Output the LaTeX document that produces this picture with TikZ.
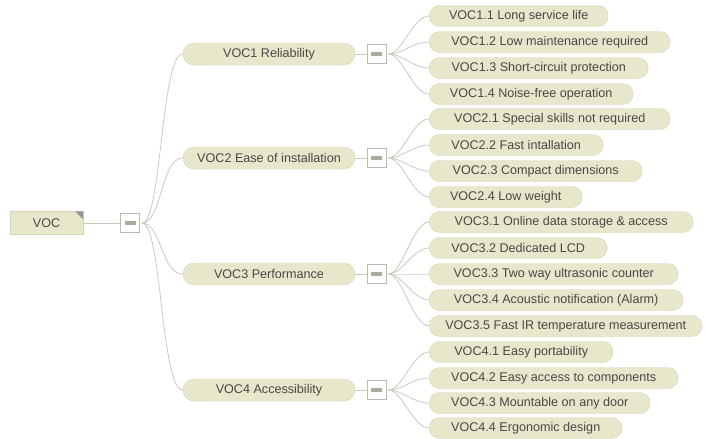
\documentclass[tikz,border=0pt]{standalone}
\usepackage{fontspec}
\setmainfont{Liberation Sans}
\definecolor{pillfill}{RGB}{232,231,203}
\definecolor{pillborder}{RGB}{214,212,178}
\definecolor{txt}{RGB}{72,72,72}
\definecolor{linkc}{RGB}{204,200,188}
\definecolor{boxline}{RGB}{190,186,172}
\definecolor{barc}{RGB}{172,169,152}
\definecolor{tric}{RGB}{150,150,150}
\tikzset{
  leaf/.style={draw=pillborder, fill=pillfill, rounded corners=10.5pt,
    minimum height=21pt, inner sep=0pt, anchor=west, text=txt,
    font=\fontsize{12.6}{14}\selectfont},
  topic/.style={leaf, anchor=center, minimum width=172pt, minimum height=22pt,
    rounded corners=11pt},
  rootbox/.style={draw=pillborder, fill=pillfill, inner sep=0pt, text=txt,
    minimum width=73pt, minimum height=23pt, font=\fontsize{12.6}{14}\selectfont},
  ctl/.style={draw=boxline, fill=white, minimum size=19pt, inner sep=0pt,
    line width=0.8pt,
    path picture={\fill[barc] ([xshift=-5.5pt,yshift=-1.8pt]path picture bounding box.center)
      rectangle ++(11pt,3.6pt);}},
  link/.style={draw=linkc, line width=0.8pt},
}
\begin{document}
\begin{tikzpicture}[x=1pt, y=-1pt]
\useasboundingbox (0,0) rectangle (705,439);

% root
\node[rootbox] (root) at (46.5,223) {VOC};
\fill[tric] (root.north east) -- ++(-8,0) -- ++(8,8) -- cycle;
\node[ctl] (rb) at (130,223) {};
\draw[link] (root.east) -- (rb.west);

% main branches
\node[topic] (t1) at (269,54) {VOC1 Reliability};
\node[topic] (t2) at (269,158) {VOC2 Ease of installation};
\node[topic] (t3) at (269,274) {VOC3 Performance};
\node[topic] (t4) at (269,390) {VOC4 Accessibility};
\foreach \i in {1,2,3,4} {
  \node[ctl] (b\i) at (376.5,{\ifcase\i\or54\or158\or274\or390\fi}) {};
  \draw[link] (t\i.east) -- (b\i.west);
  \draw[link] ([xshift=2pt]rb.east) .. controls +(20,0) and +(-22,0) .. (t\i.west);
}

% leaves
\node[leaf, minimum width=179pt] (l11) at (429,16)  {VOC1.1 Long service life};
\node[leaf, minimum width=241pt] (l12) at (429,42)  {VOC1.2 Low maintenance required};
\node[leaf, minimum width=219pt] (l13) at (429,68)  {VOC1.3 Short-circuit protection};
\node[leaf, minimum width=204pt] (l14) at (429,94)  {VOC1.4 Noise-free operation};
\node[leaf, minimum width=241pt] (l21) at (429,119) {VOC2.1 Special skills not required};
\node[leaf, minimum width=174pt] (l22) at (429,145) {VOC2.2 Fast intallation};
\node[leaf, minimum width=213pt] (l23) at (429,171) {VOC2.3 Compact dimensions};
\node[leaf, minimum width=153pt] (l24) at (429,197) {VOC2.4 Low weight};
\node[leaf, minimum width=264pt] (l31) at (429,222) {VOC3.1 Online data storage \& access};
\node[leaf, minimum width=178pt] (l32) at (429,248) {VOC3.2 Dedicated LCD};
\node[leaf, minimum width=249pt] (l33) at (429,274) {VOC3.3 Two way ultrasonic counter};
\node[leaf, minimum width=254pt] (l34) at (429,300) {VOC3.4 Acoustic notification (Alarm)};
\node[leaf, minimum width=273pt] (l35) at (429,326) {VOC3.5 Fast IR temperature measurement};
\node[leaf, minimum width=184pt] (l41) at (429,352) {VOC4.1 Easy portability};
\node[leaf, minimum width=249pt] (l42) at (429,378) {VOC4.2 Easy access to components};
\node[leaf, minimum width=221pt] (l43) at (429,403) {VOC4.3 Mountable on any door};
\node[leaf, minimum width=193pt] (l44) at (429,428) {VOC4.4 Ergonomic design};

% leaf connectors
\foreach \b/\list in {1/{1,2,3,4}, 2/{1,2,3,4}, 3/{1,2,3,4,5}, 4/{1,2,3,4}} {
  \foreach \k in \list {
    \draw[link] ([xshift=2pt]b\b.east) .. controls +(14,0) and +(-16,0) .. (l\b\k.west);
  }
}
\end{tikzpicture}
\end{document}
